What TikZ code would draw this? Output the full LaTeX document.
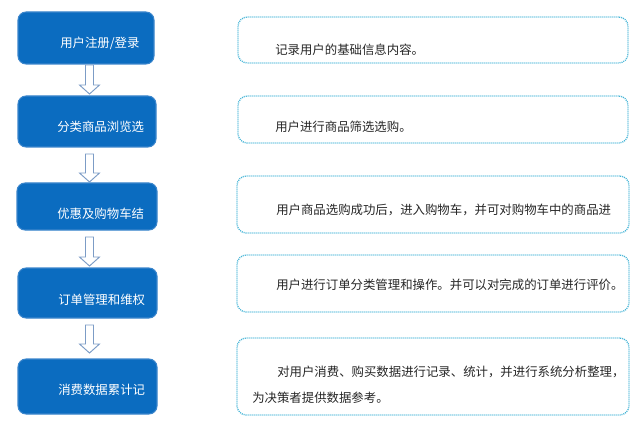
\documentclass[tikz,border=0pt]{standalone}
\usepackage{fontspec}
\setmainfont{Noto Sans CJK SC}
\begin{document}
\begin{tikzpicture}[x=0.75pt,y=-0.75pt,
  leftbox/.style={draw=boxedge,fill=boxblue,line width=0.8pt,rounded corners=6pt,inner sep=0pt},
  lefttext/.style={text=white,font=\fontsize{9.3pt}{11pt}\selectfont,anchor=west,inner sep=0pt},
  rightbox/.style={draw=dotcol,line width=1pt,dash pattern=on 0.75pt off 0.75pt,rounded corners=7pt,inner sep=0pt},
  righttext/.style={text=black!85,font=\fontsize{9.3pt}{11pt}\selectfont,anchor=west,inner sep=0pt},
  blockarr/.style={draw=arrcol,fill=white,line width=0.7pt,line join=miter}]
\definecolor{boxblue}{HTML}{0B6CC0}
\definecolor{boxedge}{HTML}{3C86CC}
\definecolor{dotcol}{HTML}{45B4D6}
\definecolor{arrcol}{HTML}{7C9CC6}
\useasboundingbox (0,0) rectangle (640,428);
% left boxes
\node[leftbox,minimum width=136*0.75pt,minimum height=52*0.75pt] (b1) at (86,38) {};
\node[leftbox,minimum width=138*0.75pt,minimum height=51*0.75pt] (b2) at (87,121.5) {};
\node[leftbox,minimum width=140*0.75pt,minimum height=47*0.75pt] (b3) at (87,206.5) {};
\node[leftbox,minimum width=139*0.75pt,minimum height=50*0.75pt] (b4) at (87.5,293) {};
\node[leftbox,minimum width=139*0.75pt,minimum height=55*0.75pt] (b5) at (87.5,386.5) {};
\node[lefttext] (t1) at (60,43) {用户注册/登录};
\node[lefttext] (t2) at (57,127) {分类商品浏览选};
\node[lefttext] (t3) at (57,214) {优惠及购物车结};
\node[lefttext] (t4) at (58,300) {订单管理和维权};
\node[lefttext] (t5) at (58,390) {消费数据累计记};
% block arrows
\foreach \ya/\yb in {65/94, 154/182, 237/266, 325/353}{
  \draw[blockarr] (85.5,\ya) -- (93.5,\ya) -- (93.5,\yb-9) -- (99.5,\yb-9) -- (89.5,\yb)
    -- (79.5,\yb-9) -- (85.5,\yb-9) -- cycle;
}
% right boxes
\node[rightbox,minimum width=390*0.75pt,minimum height=46*0.75pt] (r1) at (433,40) {};
\node[rightbox,minimum width=390*0.75pt,minimum height=47*0.75pt] (r2) at (433,119.5) {};
\node[rightbox,minimum width=392*0.75pt,minimum height=57*0.75pt] (r3) at (433,204.5) {};
\node[rightbox,minimum width=392*0.75pt,minimum height=57*0.75pt] (r4) at (433,283.5) {};
\node[rightbox,minimum width=392*0.75pt,minimum height=77*0.75pt] (r5) at (433,376.5) {};
\node[righttext] (s1) at (275,50) {记录用户的基础信息内容。};
\node[righttext] (s2) at (275,127) {用户进行商品筛选选购。};
\node[righttext] (s3) at (276,210) {用户商品选购成功后，进入购物车，并可对购物车中的商品进};
\node[righttext] (s4) at (276,285) {用户进行订单分类管理和操作。并可以对完成的订单进行评价。};
\node[righttext] (s5) at (277,372) {对用户消费、购买数据进行记录、统计，并进行系统分析整理，};
\node[righttext] (s6) at (252,398) {为决策者提供数据参考。};
\end{tikzpicture}
\end{document}
